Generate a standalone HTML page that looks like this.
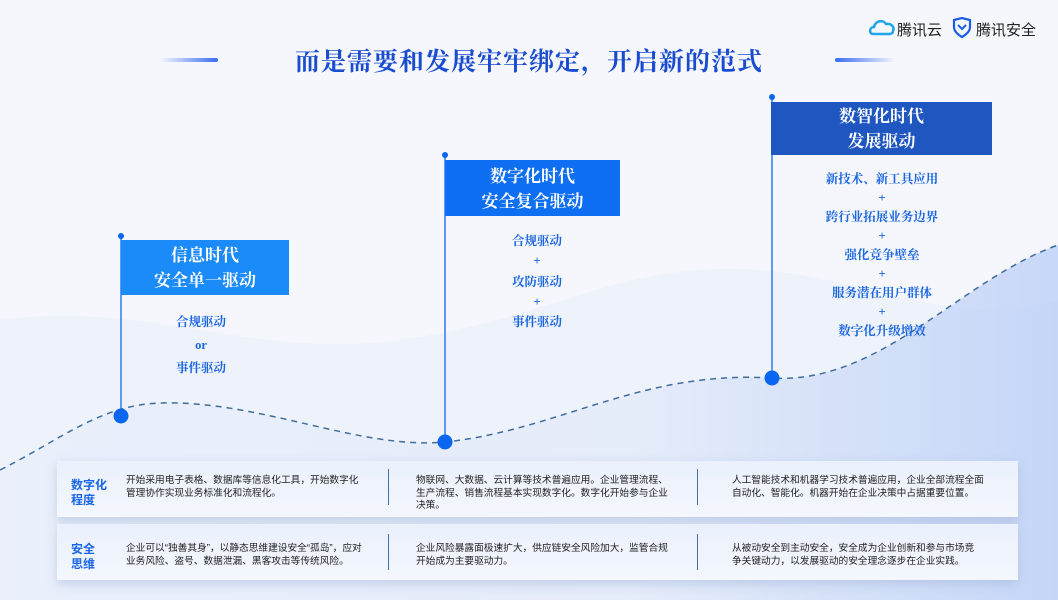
<!DOCTYPE html>
<html><head><meta charset="utf-8"><style>
*{margin:0;padding:0;box-sizing:border-box}
body{width:1058px;height:600px;overflow:hidden;background:#f5f7fc;font-family:"Liberation Sans","Noto Sans CJK SC",sans-serif;position:relative}
.abs{position:absolute}
.title{left:0;width:1058px;top:42px;text-align:center;font-family:"Liberation Serif","Noto Serif CJK SC",serif;font-size:25px;font-weight:bold;color:#1a4cd0;letter-spacing:1px}
.flag{color:#fff;font-weight:bold;font-size:17px;line-height:25px;text-align:center;font-family:"Liberation Serif","Noto Serif CJK SC",serif}
.items{color:#1a66e0;font-weight:bold;font-size:12.5px;text-align:center;font-family:"Liberation Serif","Noto Serif CJK SC",serif}
.row{left:57px;width:961px;height:56px;background:linear-gradient(180deg,#eaf0fc,#f4f7fd);box-shadow:0 4px 10px rgba(150,170,210,.45)}
.lab{left:14px;color:#1a66e8;font-weight:bold;font-size:12px;line-height:15px}
.cell{font-size:9.7px;line-height:12.5px;color:#222}
.div{width:1px;height:36px;background:#4c6cb0}
</style></head><body>
<svg class="abs" style="left:0;top:0" width="1058" height="600">
<defs>
<linearGradient id="g1" x1="0" y1="0" x2="1" y2="0"><stop offset="0" stop-color="#e8eefb"/><stop offset="0.6" stop-color="#e2eafa"/><stop offset="1" stop-color="#b8cdf6"/></linearGradient>
<linearGradient id="ln" x1="0" x2="1"><stop offset="0" stop-color="#3a6cf0" stop-opacity="0"/><stop offset="1" stop-color="#3a6cf0"/></linearGradient>
<linearGradient id="ln2" x1="0" x2="1"><stop offset="0" stop-color="#3a6cf0"/><stop offset="1" stop-color="#3a6cf0" stop-opacity="0"/></linearGradient>
</defs>
<path d="M0,320 C150,300 250,360 400,340 C550,320 620,260 760,270 C880,280 950,330 1058,300 L1058,600 L0,600Z" fill="#eef2fb"/>
<path d="M0,470 C60,440 100,405 160,403 C260,400 360,450 445,442 C560,430 640,370 772,378 C880,385 960,280 1058,245 L1058,600 L0,600Z" fill="url(#g1)" opacity=".75"/>
<path d="M0,470 C60,440 100,405 160,403 C260,400 360,450 445,442 C560,430 640,370 772,378 C880,385 960,280 1058,245" fill="none" stroke="#3f6e9c" stroke-width="1.5" stroke-dasharray="6,5"/>
<rect x="160" y="58" width="58" height="4" rx="2" fill="url(#ln)"/>
<rect x="835" y="58" width="60" height="4" rx="2" fill="url(#ln2)"/>
<line x1="121" y1="236" x2="121" y2="416" stroke="#2d7cf0" stroke-width="1.5"/>
<line x1="445" y1="155" x2="445" y2="442" stroke="#2d7cf0" stroke-width="1.5"/>
<line x1="772" y1="97" x2="772" y2="378" stroke="#2d7cf0" stroke-width="1.5"/>
<circle cx="121" cy="236" r="3" fill="#0a66f0"/><circle cx="445" cy="155" r="3" fill="#0a66f0"/><circle cx="772" cy="97" r="3" fill="#0a66f0"/>
<circle cx="121" cy="416" r="7.5" fill="#0a66f0"/><circle cx="445" cy="442" r="7.5" fill="#0a66f0"/><circle cx="772" cy="378" r="7.5" fill="#0a66f0"/>
<g transform="translate(869,17)"><path d="M4,17 C0,17 0,10 5,10 C6,4 14,2 17,7 C22,6 26,10 24,14 C24,17 21,17 20,17 Z" fill="none" stroke="#1ea5ea" stroke-width="2.5"/></g>
<g transform="translate(953,18)"><path d="M1,2 L9,0 L17,2 L17,9 C17,14 12,17 9,19 C6,17 1,14 1,9Z" fill="none" stroke="#1a5de8" stroke-width="2.2"/><path d="M5,7 L9,11 L13,7" fill="none" stroke="#1a5de8" stroke-width="2"/></g>
</svg>
<div class="abs" style="left:897px;top:19px;font-size:15px;color:#222">腾讯云</div>
<div class="abs" style="left:976px;top:19px;font-size:15px;color:#222">腾讯安全</div>
<div class="abs title">而是需要和发展牢牢绑定，开启新的范式</div>

<div class="abs flag" style="left:121px;top:240px;width:168px;height:55px;background:#1a8bf8;padding-top:3px">信息时代<br>安全单一驱动</div>
<div class="abs items" style="left:141px;top:311px;width:120px;line-height:23px">合规驱动<br>or<br>事件驱动</div>

<div class="abs flag" style="left:445px;top:160px;width:175px;height:56px;background:#0f6ff2;padding-top:4px">数字化时代<br>安全复合驱动</div>
<div class="abs items" style="left:477px;top:231px;width:120px;line-height:20.3px">合规驱动<br>+<br>攻防驱动<br>+<br>事件驱动</div>

<div class="abs flag" style="left:771px;top:102px;width:221px;height:53px;background:#1f56c0;padding-top:2px">数智化时代<br>发展驱动</div>
<div class="abs items" style="left:792px;top:170px;width:180px;line-height:19px">新技术、新工具应用<br>+<br>跨行业拓展业务边界<br>+<br>强化竞争壁垒<br>+<br>服务潜在用户群体<br>+<br>数字化升级增效</div>

<div class="abs row" style="top:461px">
<div class="abs lab" style="top:17px">数字化<br>程度</div>
<div class="abs cell" style="left:69px;top:14px;width:240px">开始采用电子表格、数据库等信息化工具，开始数字化管理协作实现业务标准化和流程化。</div>
<div class="abs div" style="left:331px;top:8px"></div>
<div class="abs cell" style="left:359px;top:14px;width:256px">物联网、大数据、云计算等技术普遍应用。企业管理流程、生产流程、销售流程基本实现数字化。数字化开始参与企业决策。</div>
<div class="abs div" style="left:640px;top:8px"></div>
<div class="abs cell" style="left:675px;top:14px;width:254px">人工智能技术和机器学习技术普遍应用，企业全部流程全面自动化、智能化。机器开始在企业决策中占据重要位置。</div>
</div>
<div class="abs row" style="top:524px">
<div class="abs lab" style="top:18px">安全<br>思维</div>
<div class="abs cell" style="left:69px;top:19px;width:244px">企业可以“独善其身”，以静态思维建设安全“孤岛”，应对业务风险、盗号、数据泄漏、黑客攻击等传统风险。</div>
<div class="abs div" style="left:331px;top:10px"></div>
<div class="abs cell" style="left:359px;top:19px;width:256px">企业风险暴露面极速扩大，供应链安全风险加大，监管合规开始成为主要驱动力。</div>
<div class="abs div" style="left:640px;top:10px"></div>
<div class="abs cell" style="left:675px;top:19px;width:244px">从被动安全到主动安全，安全成为企业创新和参与市场竞争关键动力，以发展驱动的安全理念逐步在企业实践。</div>
</div>
</body></html>
